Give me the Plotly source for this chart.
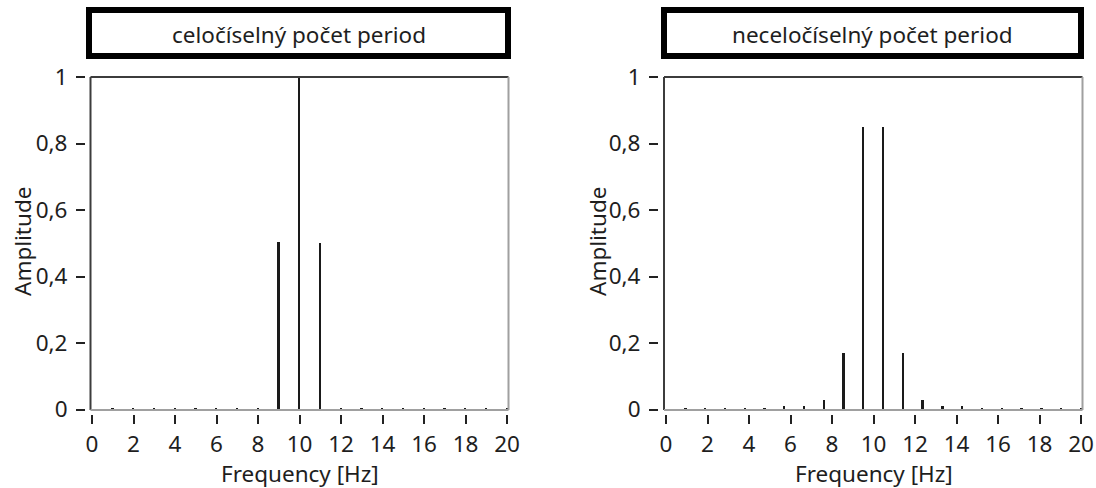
import plotly.graph_objects as go

# Spectrum of an integer number of periods (bins every 1 Hz)
freq_int = [0, 1, 2, 3, 4, 5, 6, 7, 8, 9, 10, 11, 12, 13, 14, 15, 16, 17, 18, 19, 20]
amp_int = [0.0, 0.005, 0.005, 0.005, 0.005, 0.005, 0.005, 0.005, 0.005, 0.505, 1.0,
           0.5, 0.005, 0.005, 0.005, 0.005, 0.005, 0.005, 0.005, 0.005, 0.005]

# Spectrum of a non-integer number of periods (bins every ~0.952 Hz)
freq_frac = [0.0, 0.95, 1.9, 2.86, 3.81, 4.76, 5.71, 6.67, 7.62, 8.57, 9.52,
             10.48, 11.43, 12.38, 13.33, 14.29, 15.24, 16.19, 17.14, 18.1, 19.05, 20.0]
amp_frac = [0.0, 0.005, 0.005, 0.005, 0.005, 0.005, 0.012, 0.012, 0.03, 0.17, 0.85,
            0.85, 0.17, 0.03, 0.012, 0.012, 0.005, 0.005, 0.005, 0.005, 0.005, 0.005]

titles = ["celočíselný počet period", "neceločíselný počet period"]
x_tick_vals = [0, 2, 4, 6, 8, 10, 12, 14, 16, 18, 20]
x_tick_text = ["0", "2", "4", "6", "8", "10", "12", "14", "16", "18", "20"]
y_tick_vals = [0, 0.2, 0.4, 0.6, 0.8, 1]
y_tick_text = ["0", "0,2", "0,4", "0,6", "0,8", "1"]
x_label = "Frequency [Hz]"
y_label = "Amplitude"

W, H = 1096, 488
FONT = "Noto Sans"
FS = 22.5
TXT = "#1e1e1e"
STEM = "#1a1a1a"


def fx(px):
    return px / W


def fy(py):
    return 1 - py / H


# pixel geometry of each panel
panels = [
    dict(x0px=92, dom=(86, 512), frame=(90.5, 508.5), box=(89, 508), ylab=22,
         freq=freq_int, amp=amp_int),
    dict(x0px=666, dom=(659, 1086), frame=(664, 1082.5), box=(664, 1081), ylab=597,
         freq=freq_frac, amp=amp_frac),
]
X_SCALE = 20.75          # px per Hz
Y0PX, Y_SCALE = 409.5, 332.5   # px of amplitude 0, px per unit
YDOM = (414, 70)
FRAME_TOP, FRAME_BOT = 77, 410

fig = go.Figure()
shapes, annotations = [], []

for i, p in enumerate(panels):
    n = "" if i == 0 else str(i + 1)
    fig.add_trace(go.Bar(
        x=p["freq"], y=p["amp"], width=0.09,
        marker=dict(color=STEM, line=dict(width=0)),
        xaxis="x" + n, yaxis="y" + n, showlegend=False, hoverinfo="x+y",
    ))
    xr = [(p["dom"][0] - p["x0px"]) / X_SCALE, (p["dom"][1] - p["x0px"]) / X_SCALE]
    yr = [-(YDOM[0] - Y0PX) / Y_SCALE, (Y0PX - YDOM[1]) / Y_SCALE]
    common = dict(showgrid=False, zeroline=False, showline=False, fixedrange=True,
                  automargin=False,
                  ticks="outside", ticklen=9, tickwidth=2, tickcolor="#222222",
                  tickfont=dict(family=FONT, size=FS, color=TXT))
    fig.layout["xaxis" + n] = dict(
        domain=[fx(p["dom"][0]), fx(p["dom"][1])], range=xr, anchor="y" + n,
        tickmode="array", tickvals=x_tick_vals, ticktext=x_tick_text,
        ticklabelstandoff=1, **common)
    fig.layout["yaxis" + n] = dict(
        domain=[fy(YDOM[0]), fy(YDOM[1])], range=yr, anchor="x" + n,
        tickmode="array", tickvals=y_tick_vals, ticktext=y_tick_text,
        ticklabelstandoff=4, **common)

    # sunken plot frame: dark top/left, light bottom/right
    l, r = p["frame"]
    dark, light = "#3c3c3c", "#a0a0a0"
    for (xa, ya, xb, yb, c) in [
        (l, FRAME_TOP, r, FRAME_TOP, dark),
        (l, FRAME_TOP, l, FRAME_BOT, dark),
        (l, FRAME_BOT, r, FRAME_BOT, light),
        (r, FRAME_TOP, r, FRAME_BOT, light),
    ]:
        shapes.append(dict(type="line", xref="paper", yref="paper",
                           x0=fx(xa), y0=fy(ya), x1=fx(xb), y1=fy(yb),
                           line=dict(color=c, width=2), layer="above"))

    # title box
    bl, br = p["box"]
    shapes.append(dict(type="rect", xref="paper", yref="paper",
                       x0=fx(bl), x1=fx(br), y0=fy(10), y1=fy(56),
                       line=dict(color="#000000", width=6), fillcolor="white"))
    annotations.append(dict(text=titles[i], xref="paper", yref="paper",
                            x=fx((bl + br) / 2), y=fy(34), showarrow=False,
                            xanchor="center", yanchor="middle",
                            font=dict(family=FONT, size=FS, color=TXT)))
    # axis titles
    annotations.append(dict(text=x_label, xref="paper", yref="paper",
                            x=fx(p["x0px"] + 10 * X_SCALE), y=fy(473.5), showarrow=False,
                            xanchor="center", yanchor="middle",
                            font=dict(family=FONT, size=FS, color=TXT)))
    annotations.append(dict(text=y_label, xref="paper", yref="paper",
                            x=fx(p["ylab"]), y=fy(242), showarrow=False, textangle=-90,
                            xanchor="center", yanchor="middle",
                            font=dict(family=FONT, size=FS, color=TXT)))

fig.update_layout(
    width=W, height=H, margin=dict(l=0, r=0, t=0, b=0, autoexpand=False),
    paper_bgcolor="white", plot_bgcolor="white",
    shapes=shapes, annotations=annotations, bargap=0,
)

fig.write_html("out.html", config={"displayModeBar": False})
